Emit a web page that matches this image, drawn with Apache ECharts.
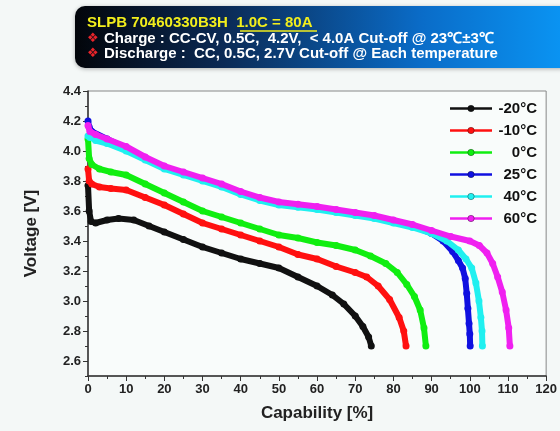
<!DOCTYPE html>
<html>
<head>
<meta charset="utf-8">
<script src="https://cdn.jsdelivr.net/npm/echarts@6.0.0/dist/echarts.min.js"></script>
<style>
  html, body { margin: 0; padding: 0; background: #f4f8f7; }
  #chart { width: 560px; height: 431px; }
</style>
</head>
<body>
<div id="chart"></div>
<script>
// discharge curves, capability [%] vs voltage [V]
var tempNames = ['-20°C', '-10°C', '0°C', '25°C', '40°C', '60°C']
var tempColors = ['#111111', '#ff1010', '#10ee10', '#1010e0', '#20f0f0', '#f020f0']

var capN20 = [0, 0.3, 0.8, 2, 5, 8, 12, 16, 20, 25, 30, 35, 40, 45, 50, 55, 60, 64, 67, 70, 72, 73.5, 74.2]
var voltN20 = [3.77, 3.60, 3.53, 3.52, 3.54, 3.55, 3.54, 3.50, 3.46, 3.41, 3.36, 3.32, 3.28, 3.25, 3.22, 3.16, 3.10, 3.04, 2.98, 2.90, 2.83, 2.76, 2.70]

var capN10 = [0, 0.3, 1, 3, 6, 10, 15, 20, 25, 30, 35, 40, 45, 50, 55, 60, 65, 70, 73, 76, 79, 81.5, 82.7, 83.3]
var voltN10 = [3.88, 3.80, 3.78, 3.76, 3.75, 3.74, 3.69, 3.64, 3.58, 3.52, 3.48, 3.44, 3.40, 3.36, 3.31, 3.28, 3.23, 3.19, 3.16, 3.10, 3.01, 2.89, 2.80, 2.70]

var cap0 = [0, 0.3, 1, 3, 6, 10, 15, 20, 25, 30, 35, 40, 45, 50, 55, 60, 65, 70, 74, 78, 81, 83.5, 85.5, 87, 88, 88.5]
var volt0 = [4.08, 3.95, 3.91, 3.88, 3.86, 3.84, 3.78, 3.72, 3.66, 3.60, 3.56, 3.52, 3.48, 3.44, 3.42, 3.39, 3.37, 3.34, 3.30, 3.25, 3.19, 3.11, 3.03, 2.94, 2.82, 2.70]

var cap25 = [0, 0.3, 1, 5, 10, 15, 20, 25, 30, 35, 40, 45, 50, 55, 60, 65, 70, 75, 80, 85, 90, 93, 95.5, 97, 98.1, 98.8, 99.2, 99.5, 99.8, 100, 100.1]
var volt25 = [4.20, 4.16, 4.13, 4.08, 4.02, 3.95, 3.89, 3.85, 3.81, 3.77, 3.72, 3.68, 3.65, 3.635, 3.62, 3.60, 3.58, 3.56, 3.53, 3.50, 3.45, 3.40, 3.33, 3.27, 3.22, 3.15, 3.05, 2.95, 2.85, 2.78, 2.70]

var cap40 = [0, 0.5, 2, 5, 10, 15, 20, 25, 30, 35, 40, 45, 50, 55, 60, 65, 70, 75, 80, 85, 90, 94, 97, 99, 100.5, 101.6, 102.4, 102.9, 103.2, 103.3]
var volt40 = [4.10, 4.09, 4.07, 4.05, 4.00, 3.94, 3.88, 3.84, 3.80, 3.76, 3.71, 3.67, 3.64, 3.625, 3.61, 3.59, 3.57, 3.55, 3.52, 3.49, 3.45, 3.40, 3.34, 3.28, 3.22, 3.12, 3.00, 2.89, 2.80, 2.70]

var cap60 = [0, 0.5, 2, 5, 10, 15, 20, 25, 30, 35, 40, 45, 50, 55, 60, 65, 70, 75, 80, 85, 90, 95, 100, 102.5, 104.5, 106, 107.3, 108.5, 109.5, 110.2, 110.5]
var volt60 = [4.17, 4.13, 4.11, 4.08, 4.03, 3.96, 3.90, 3.86, 3.82, 3.78, 3.73, 3.69, 3.66, 3.645, 3.63, 3.61, 3.59, 3.57, 3.54, 3.51, 3.47, 3.43, 3.40, 3.37, 3.32, 3.25, 3.16, 3.06, 2.94, 2.82, 2.70]

var capTicks = [0, 10, 20, 30, 40, 50, 60, 70, 80, 90, 100, 110, 120]
var voltTicks = [2.6, 2.8, 3.0, 3.2, 3.4, 3.6, 3.8, 4.0, 4.2, 4.4]

var caps = [capN20, capN10, cap0, cap25, cap40, cap60]
var volts = [voltN20, voltN10, volt0, volt25, volt40, volt60]

var font = 'Liberation Sans, Arial, sans-serif'
var chart = echarts.init(document.getElementById('chart'))

var series = tempNames.map(function(name, i) {
  return {
    name: name,
    type: 'line',
    data: caps[i].map(function(c, j) { return [c, volts[i][j]] }),
    symbol: 'circle',
    symbolSize: 7,
    showSymbol: true,
    lineStyle: { color: tempColors[i], width: 6 },
    itemStyle: { color: tempColors[i] },
    z: 2 + i
  }
})

chart.setOption({
  backgroundColor: '#f4f8f7',
  animation: false,
  grid: {
    left: 88,
    right: 13,
    top: 91,
    bottom: 55,
    show: true,
    backgroundColor: '#f9fcfb',
    borderColor: '#888',
    borderWidth: 1
  },
  legend: {
    orient: 'vertical',
    right: 18,
    top: 96,
    itemWidth: 42,
    itemHeight: 8,
    itemGap: 7,
    lineStyle: { width: 2.5 },
    itemStyle: { borderColor: 'rgba(0,0,0,0.35)', borderWidth: 1 },
    data: tempNames,
    formatter: function(name) { return '{n|' + name + '}' },
    textStyle: {
      rich: {
        n: { width: 40, align: 'right', lineHeight: 18, fontSize: 15, fontWeight: 'bold', fontFamily: font, color: '#111' }
      }
    }
  },
  xAxis: {
    type: 'value',
    min: 0,
    max: 120,
    interval: 10,
    name: 'Capability [%]',
    nameLocation: 'middle',
    nameGap: 29,
    nameTextStyle: { fontSize: 17, fontWeight: 'bold', fontFamily: font, color: '#222' },
    axisLine: { lineStyle: { color: '#333', width: 1.5 } },
    axisTick: { length: 5, lineStyle: { color: '#333' } },
    minorTick: { show: true, splitNumber: 2, length: 3, lineStyle: { color: '#333' } },
    axisLabel: { customValues: capTicks, fontSize: 13, fontWeight: 'bold', fontFamily: font, color: '#222', margin: 7 },
    splitLine: { show: false }
  },
  yAxis: [
    {
      type: 'value',
      min: 2.5,
      max: 4.4,
      interval: 0.1,
      name: 'Voltage [V]',
      nameLocation: 'middle',
      nameGap: 48,
      nameTextStyle: { fontSize: 17, fontWeight: 'bold', fontFamily: font, color: '#222' },
      axisLine: { show: true, lineStyle: { color: '#333', width: 1.5 } },
      axisTick: { show: true, length: 5, customValues: voltTicks, lineStyle: { color: '#333' } },
      axisLabel: {
        customValues: voltTicks,
        formatter: function(v) { return v.toFixed(1) },
        fontSize: 13, fontWeight: 'bold', fontFamily: font, color: '#222', margin: 7
      },
      splitLine: { show: false }
    },
    {
      type: 'value',
      min: 2.5,
      max: 4.4,
      interval: 0.1,
      position: 'left',
      axisLine: { show: false },
      axisTick: { show: true, length: 3, lineStyle: { color: '#333' } },
      axisLabel: { show: false },
      splitLine: { show: false }
    }
  ],
  graphic: [
    {
      type: 'rect',
      shape: { x: 75, y: 6, width: 495, height: 62, r: 10 },
      style: {
        fill: new echarts.graphic.LinearGradient(0, 0, 1, 0, [
          { offset: 0, color: '#02050a' },
          { offset: 0.3, color: '#0b2a55' },
          { offset: 0.7, color: '#0a6cc8' },
          { offset: 1, color: '#0a96f5' }
        ]),
        shadowBlur: 4,
        shadowColor: 'rgba(0,0,0,0.3)',
        shadowOffsetY: 1
      },
      z: 10
    },
    {
      type: 'text', x: 87, y: 23, z: 11,
      style: { text: 'SLPB 70460330B3H  1.0C = 80A', fill: '#f2ee1c', font: 'bold 15px ' + font, verticalAlign: 'middle' }
    },
    {
      type: 'line', z: 11,
      shape: { x1: 240, y1: 31, x2: 317, y2: 31 },
      style: { stroke: '#f2ee1c', lineWidth: 1.5 }
    },
    {
      type: 'text', x: 87, y: 39, z: 11,
      style: { text: '❖', fill: '#e8242a', font: 'bold 13px DejaVu Sans', verticalAlign: 'middle' }
    },
    {
      type: 'text', x: 104, y: 39, z: 11,
      style: { text: 'Charge : CC-CV, 0.5C,  4.2V,  < 4.0A Cut-off @ 23℃±3℃', fill: '#ffffff', font: 'bold 15px ' + font, verticalAlign: 'middle' }
    },
    {
      type: 'text', x: 87, y: 54, z: 11,
      style: { text: '❖', fill: '#e8242a', font: 'bold 13px DejaVu Sans', verticalAlign: 'middle' }
    },
    {
      type: 'text', x: 104, y: 54, z: 11,
      style: { text: 'Discharge :  CC, 0.5C, 2.7V Cut-off @ Each temperature', fill: '#ffffff', font: 'bold 15px ' + font, verticalAlign: 'middle' }
    }
  ],
  series: series
})
</script>
</body>
</html>
